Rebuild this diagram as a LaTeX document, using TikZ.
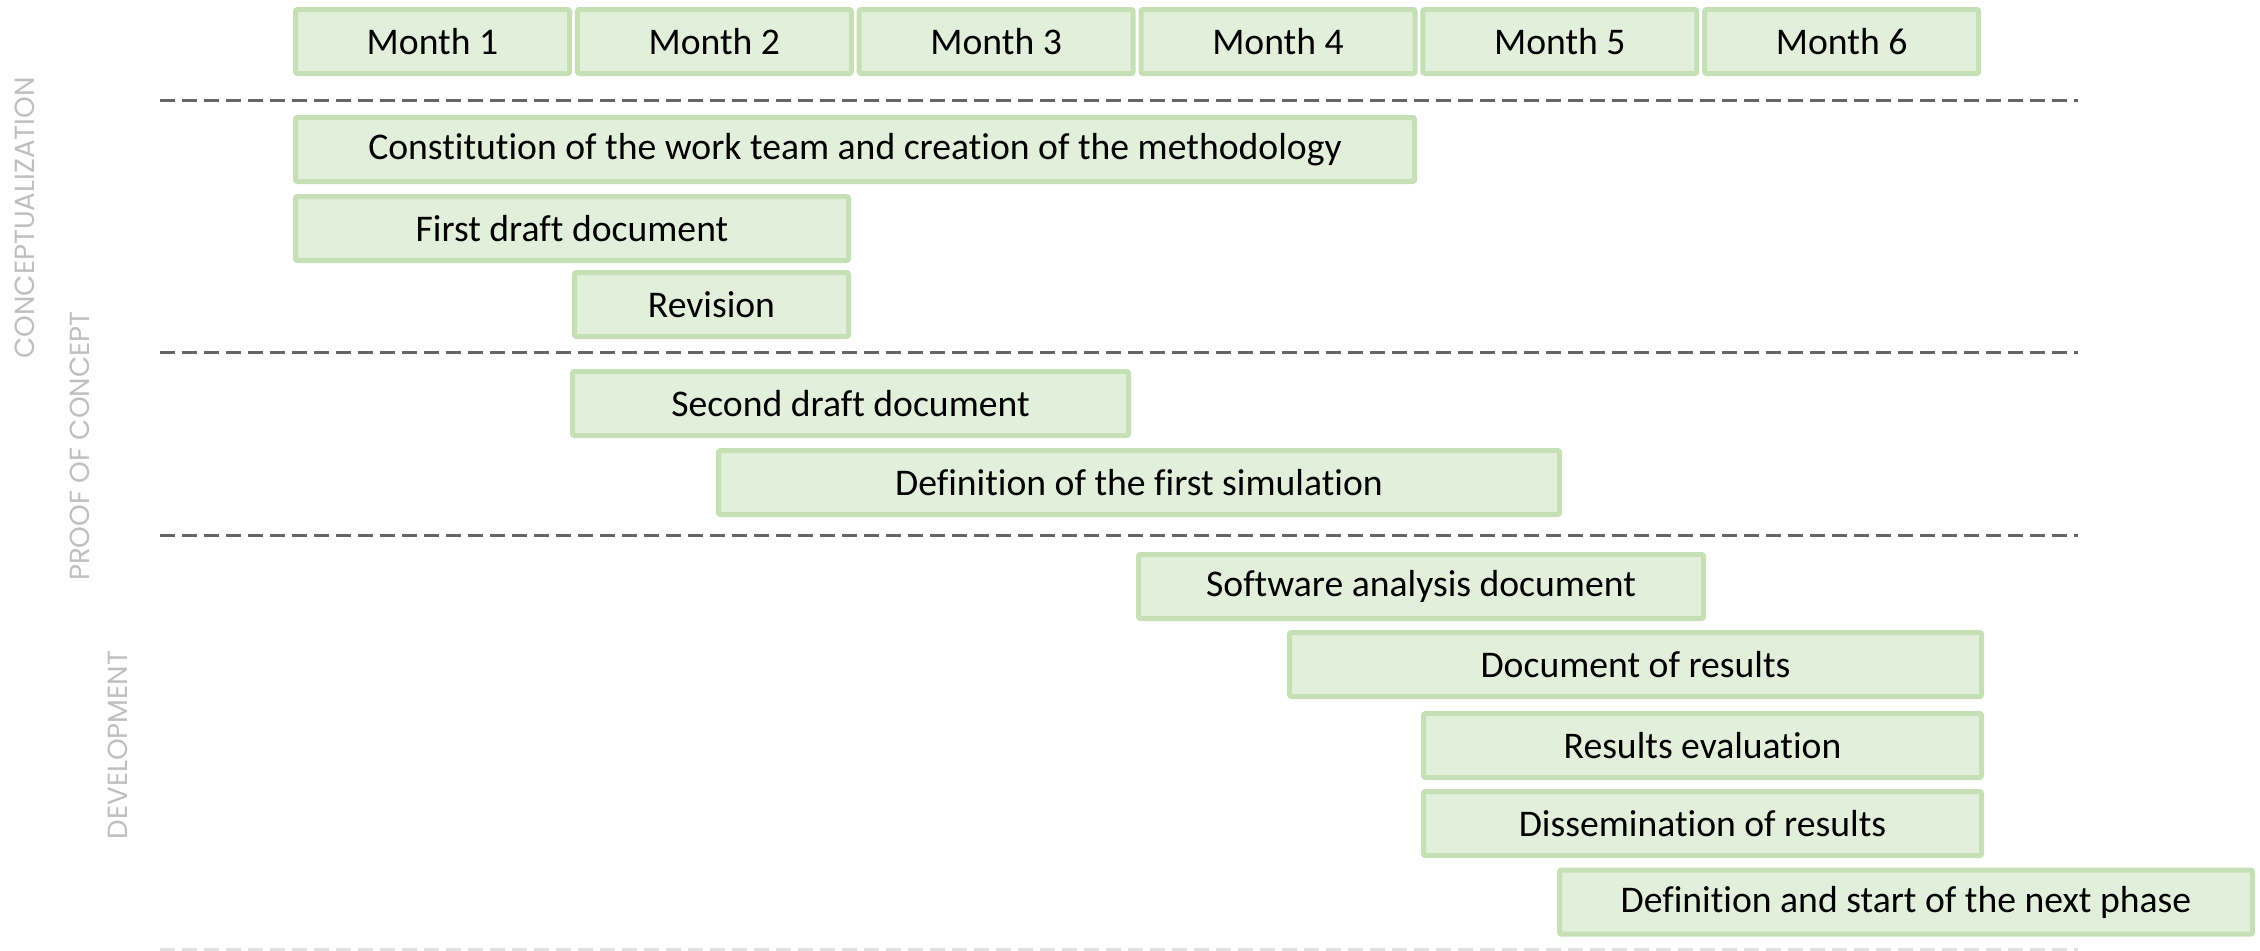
\documentclass[tikz,border=0pt]{standalone}
\usepackage{fontspec}
\setmainfont{Carlito}[Ligatures=NoCommon]
\newfontfamily\phasefont{Poppins}
\usetikzlibrary{positioning}

\definecolor{barfill}{HTML}{E2EFDA}
\definecolor{barline}{HTML}{C5E0B4}
\definecolor{phasegrey}{HTML}{BFBFBF}
\definecolor{sepgrey}{HTML}{666666}

\tikzset{
  month/.style={draw=barline, fill=barfill, line width=1.5pt, rounded corners=0.6pt,
    minimum width=82.2pt, minimum height=19.2pt, inner sep=0pt,
    font=\fontsize{11.3}{13}\selectfont},
  task/.style={month, minimum width=#1},
  phase/.style={rotate=90, text=phasegrey, font=\phasefont\fontsize{8.3}{9}\selectfont},
  sepline/.style={draw=sepgrey, line width=0.9pt, dash pattern=on 4.5pt off 2.1pt}
}

\begin{document}
\begin{tikzpicture}[x=0.3pt, y=-0.3pt]
  \useasboundingbox (0,0) rectangle (2260,950);

  % months
  \node[month] (m1) at (432.5,41.5) {Month 1};
  \node[month] (m2) [right = 0.85pt of m1] {Month 2};
  \node[month] (m3) [right = 0.85pt of m2] {Month 3};
  \node[month] (m4) [right = 0.85pt of m3] {Month 4};
  \node[month] (m5) [right = 0.85pt of m4] {Month 5};
  \node[month] (m6) [right = 0.85pt of m5] {Month 6};

  % phase separators
  \draw[sepline] (160,100) -- (2078,100);
  \draw[sepline] (160,352) -- (2078,352);
  \draw[sepline] (160,535) -- (2078,535);
  \draw[sepline, draw=black!12] (160,949) -- (2078,949);

  % phases
  \node[phase] (concept) at (24.5,218) {CONCEPTUALIZATION};
  \node[phase] (proof) at (80,446) {PROOF OF CONCEPT};
  \node[phase] (devel) at (118,745) {DEVELOPMENT};

  % tasks
  \node[task=335.7pt] (team) at (855,149.5) {Constitution of the work team and creation of the methodology};
  \node[task=165.9pt] (draft1) at (572,228.5) {First draft document};
  \node[task=82.2pt] (revision) at (711.5,304.5) {Revision};
  \node[task=166.8pt] (draft2) at (850.5,403.5) {Second draft document};
  \node[task=252.3pt] (simul) at (1139,482.5) {Definition of the first simulation};
  \node[task=169.5pt] (software) at (1421,586.5) {Software analysis document};
  \node[task=207.6pt] (results) at (1635.5,664.5) {Document of results};
  \node[task=167.4pt] (evaluation) at (1702.5,745.5) {Results evaluation};
  \node[task=167.4pt] (dissem) at (1702.5,823.5) {Dissemination of results};
  \node[task=207.9pt] (nextphase) at (1906,902) {Definition and start of the next phase};
\end{tikzpicture}
\end{document}
